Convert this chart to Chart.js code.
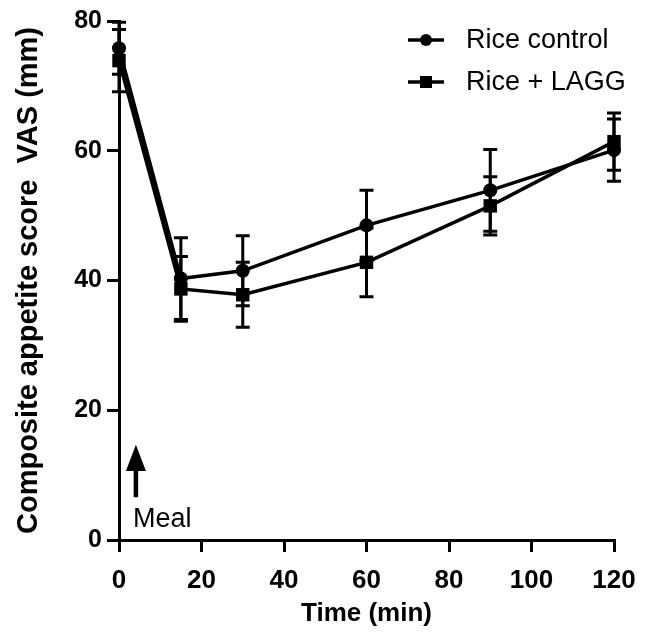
<!DOCTYPE html>
<html>
<head>
<meta charset="utf-8">
<script src="https://cdn.jsdelivr.net/npm/chart.js@4"></script>
<style>
  html, body { margin: 0; padding: 0; background: #fff; }
  #wrap { width: 668px; height: 632px; }
</style>
</head>
<body>
<div id="wrap"><canvas id="chart"></canvas></div>
<script>
/* Composite appetite score over time */
const times = [0, 15, 30, 60, 90, 120];
const riceControl = [75.8, 40.3, 41.5, 48.5, 53.9, 60.1];
const riceControlSem = [4.0, 6.3, 5.4, 5.4, 6.3, 4.8];
const riceLagg = [73.9, 38.7, 37.8, 42.8, 51.5, 61.4];
const riceLaggSem = [4.8, 5.0, 5.0, 5.3, 4.5, 4.4];
const xTicks = [0, 20, 40, 60, 80, 100, 120];
const yTicks = [0, 20, 40, 60, 80];

const FONT = '"Liberation Sans", Arial, sans-serif';

const toPoints = (vals) => vals.map((v, i) => ({ x: times[i], y: v }));

// whiskers (mean ± SEM), drawn through the chart scales
const errorBars = {
  id: 'errorBars',
  afterDatasetsDraw(chart) {
    const { ctx, scales: { x, y } } = chart;
    ctx.save();
    ctx.strokeStyle = '#000';
    ctx.lineWidth = 3;
    chart.data.datasets.forEach((ds) => {
      ds.data.forEach((p, i) => {
        const px = x.getPixelForValue(p.x);
        const top = y.getPixelForValue(p.y + ds.sem[i]);
        const bot = y.getPixelForValue(p.y - ds.sem[i]);
        ctx.beginPath();
        ctx.moveTo(px, top); ctx.lineTo(px, bot);
        ctx.moveTo(px - 7, top); ctx.lineTo(px + 7, top);
        ctx.moveTo(px - 7, bot); ctx.lineTo(px + 7, bot);
        ctx.stroke();
      });
    });
    ctx.restore();
  },
};

// legend with line + marker, and the "Meal" arrow
const extras = {
  id: 'extras',
  afterDraw(chart) {
    const { ctx, scales: { x, y } } = chart;
    ctx.save();
    ctx.fillStyle = '#000';
    ctx.strokeStyle = '#000';
    ctx.font = '27px ' + FONT;
    ctx.textBaseline = 'middle';
    chart.data.datasets.forEach((ds, i) => {
      const ly = 40 + i * 42;
      ctx.lineWidth = 3.5;
      ctx.beginPath(); ctx.moveTo(408, ly); ctx.lineTo(444, ly); ctx.stroke();
      ctx.beginPath();
      if (ds.pointStyle === 'circle') ctx.arc(426, ly, 6, 0, Math.PI * 2);
      else ctx.rect(420, ly - 6, 12, 12);
      ctx.fill();
      ctx.fillText(ds.label, 466, ly + 1);
    });

    // arrow
    const ax = x.getPixelForValue(4.1);
    const yHead = y.getPixelForValue(14.7);
    const yNeck = y.getPixelForValue(10.8);
    const yTail = y.getPixelForValue(6.6);
    ctx.lineWidth = 4.5;
    ctx.beginPath(); ctx.moveTo(ax, yNeck); ctx.lineTo(ax, yTail); ctx.stroke();
    ctx.beginPath();
    ctx.moveTo(ax, yHead); ctx.lineTo(ax - 10, yNeck + 1); ctx.lineTo(ax + 10, yNeck + 1);
    ctx.closePath(); ctx.fill();
    ctx.textAlign = 'left';
    ctx.fillText('Meal', x.getPixelForValue(3.4), y.getPixelForValue(3.2));
    ctx.restore();
  },
};

Chart.defaults.font.family = FONT;
Chart.defaults.color = '#000';

new Chart(document.getElementById('chart'), {
  type: 'line',
  data: {
    datasets: [
      { label: 'Rice control', data: toPoints(riceControl), sem: riceControlSem, pointStyle: 'circle', pointRadius: 7 },
      { label: 'Rice + LAGG', data: toPoints(riceLagg), sem: riceLaggSem, pointStyle: 'rect', pointRadius: 9.5 },
    ].map((d) => Object.assign({
      borderColor: '#000', backgroundColor: '#000', pointBackgroundColor: '#000', pointBorderColor: '#000',
      borderWidth: 3.5, pointBorderWidth: 0, tension: 0, clip: false,
    }, d)),
  },
  options: {
    responsive: true,
    maintainAspectRatio: false,
    animation: false,
    devicePixelRatio: 1,
    layout: { padding: { top: 21, right: 54, left: 0, bottom: 0 } },
    plugins: { legend: { display: false }, tooltip: { enabled: false } },
    scales: {
      x: {
        type: 'linear', min: 0, max: 120,
        afterBuildTicks: (s) => { s.ticks = xTicks.map((v) => ({ value: v })); },
        afterFit: (s) => { s.height = 92; },
        border: { display: true, color: '#000', width: 3 },
        grid: { drawOnChartArea: false, drawTicks: true, color: '#000', lineWidth: 3, tickLength: 12 },
        ticks: { font: { size: 26, weight: 'bold' }, padding: 13, maxRotation: 0 },
        title: { display: true, text: 'Time (min)', font: { size: 26, weight: 'bold' }, padding: { top: 4, bottom: 3 } },
      },
      y: {
        min: 0, max: 80,
        afterBuildTicks: (s) => { s.ticks = yTicks.map((v) => ({ value: v })); },
        afterFit: (s) => { s.width = 119; },
        border: { display: true, color: '#000', width: 3 },
        grid: { drawOnChartArea: false, drawTicks: true, color: '#000', lineWidth: 3, tickLength: 12 },
        ticks: { font: { size: 25, weight: 'bold' }, padding: 5 },
        title: { display: true, text: 'Composite appetite score  VAS (mm)', font: { size: 29, weight: 'bold' }, padding: { top: 12, bottom: 4 } },
      },
    },
  },
  plugins: [errorBars, extras],
});
</script>
</body>
</html>
